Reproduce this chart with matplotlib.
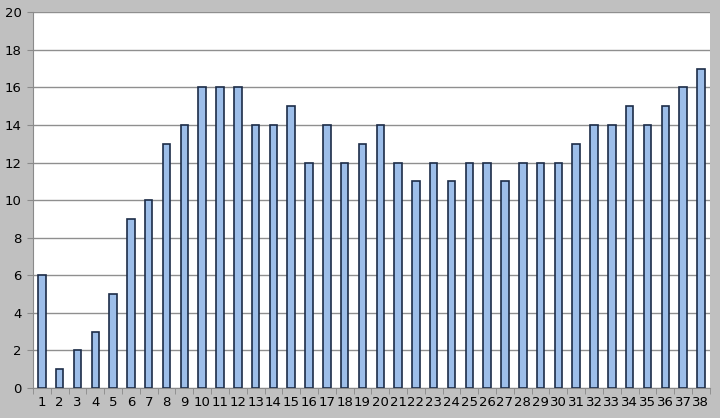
import numpy as np
import matplotlib
matplotlib.use("Agg")
import matplotlib.pyplot as plt

categories = [str(i) for i in range(1, 39)]
values = [6, 1, 2, 3, 5, 9, 10, 13, 14, 16, 16, 16, 14, 14, 15, 12, 14, 12, 13, 14,
          12, 11, 12, 11, 12, 12, 11, 12, 12, 12, 13, 14, 14, 15, 14, 15, 16, 17]
y_ticks = list(range(0, 21, 2))

fig = plt.figure(figsize=(7.2, 4.18), dpi=100, facecolor="#c0c0c0")
ax = fig.add_axes([0.0458, 0.0718, 0.94, 0.899])
ax.set_facecolor("white")

x = np.arange(len(categories))
ax.bar(x, values, width=0.42, color="#9dbee9", edgecolor="#1c2c48", linewidth=1.2, zorder=3)

ax.set_xlim(-0.5, len(categories) - 0.5)
ax.set_ylim(0, 20)
ax.set_yticks(y_ticks)
ax.yaxis.grid(True, color="#8f8f8f", linewidth=1.0, zorder=0)

ax.set_xticks(x)
ax.set_xticklabels(categories, fontsize=9.5)
ax.set_xticks(np.arange(-0.5, len(categories)), minor=True)
ax.tick_params(axis="x", which="major", length=0, pad=6)
ax.tick_params(axis="x", which="minor", length=4, color="#8a8a8a", direction="out")
ax.tick_params(axis="y", length=4, color="#8a8a8a", labelsize=9.5, pad=4)

for s in ["top", "right"]:
    ax.spines[s].set_visible(False)
ax.spines["left"].set_color("#8a8a8a")
ax.spines["bottom"].set_color("#8a8a8a")

fig.savefig("out.png", dpi=100, facecolor=fig.get_facecolor())
